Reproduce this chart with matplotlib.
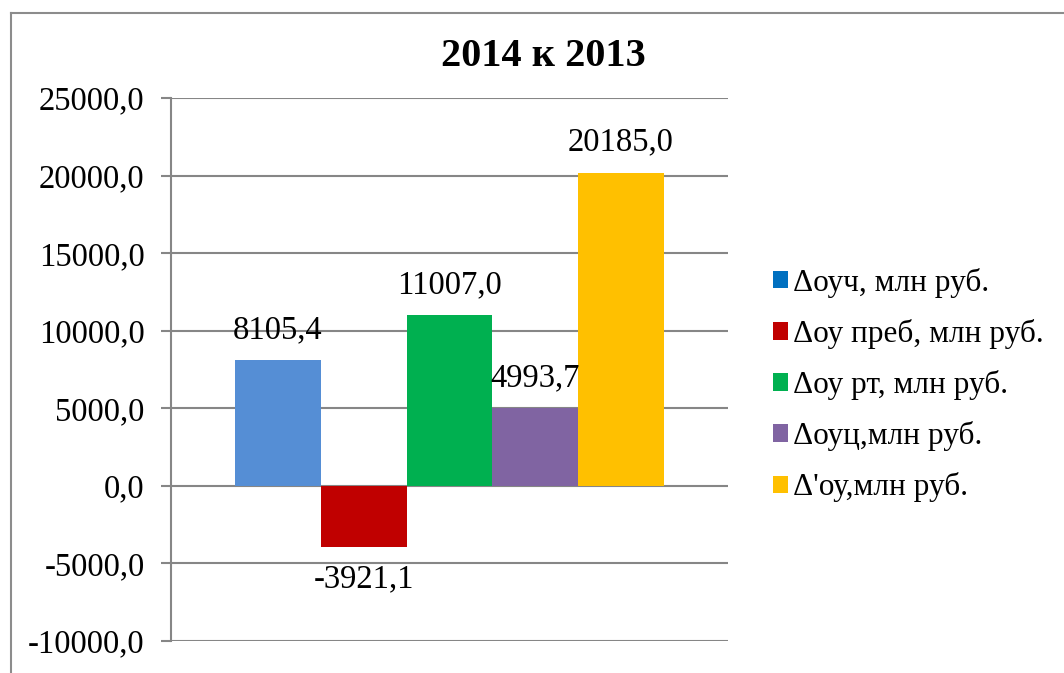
import matplotlib
matplotlib.use("Agg")
import matplotlib.pyplot as plt
from matplotlib.lines import Line2D
from matplotlib.patches import Patch

plt.rcParams["font.family"] = ["Liberation Serif", "DejaVu Serif"]

labels = ["\u0394оуч, млн руб.", "\u0394оу преб, млн руб.", "\u0394оу рт, млн руб.",
          "\u0394оуц,млн руб.", "\u0394'оу,млн руб."]
values = [8105.4, -3921.1, 11007.0, 4993.7, 20185.0]
bar_colors = ["#558ED5", "#C00000", "#00B050", "#8064A2", "#FFC000"]
legend_colors = ["#0070C0", "#C00000", "#00B050", "#8064A2", "#FFC000"]
yticks = [-10000, -5000, 0, 5000, 10000, 15000, 20000, 25000]

W, H = 1064, 673
fig = plt.figure(figsize=(W / 100, H / 100), dpi=100)
ax = fig.add_axes([171 / W, 1 - 641 / H, (728 - 171) / W, (641 - 98) / H])

width = 0.154
n = len(values)
xs = [(i - (n - 1) / 2) * width for i in range(n)]
ax.bar(xs, values, width=width, color=bar_colors, zorder=3)

for x, v in zip(xs, values):
    txt = f"{v:.1f}".replace(".", ",")
    if v >= 0:
        ax.annotate(txt, (x, v), xytext=(0, 11), textcoords="offset points",
                    ha="center", va="bottom", fontsize=23.5, zorder=4)
    else:
        ax.annotate(txt, (x, v), xytext=(0, -12), textcoords="offset points",
                    ha="center", va="top", fontsize=23.5, zorder=4)

ax.set_xlim(-0.5, 0.5)
ax.set_ylim(-10000, 25000)
ax.set_yticks(yticks)
ax.set_yticklabels([f"{t:.1f}".replace(".", ",") for t in yticks], fontsize=23.5)
ax.set_xticks([])
ax.yaxis.grid(True, color="#868686", linewidth=1.5, zorder=0)
ax.tick_params(axis="y", length=7, width=1.5, color="#868686", pad=12)
for s in ["top", "right", "bottom"]:
    ax.spines[s].set_visible(False)
ax.spines["left"].set_color("#868686")
ax.spines["left"].set_linewidth(1.5)
ax.spines["left"].set_zorder(5)

fig.text(543 / W, 1 - 57 / H, "2014 к 2013", ha="center", va="center",
         fontsize=29, fontweight="bold")

handles = [Patch(facecolor=c, edgecolor="none") for c in legend_colors]
fig.legend(handles, labels, loc="center left", bbox_to_anchor=(757 / W, 1 - 385 / H),
           frameon=False, fontsize=22.5, handlelength=0.5, handleheight=0.5,
           handletextpad=0.15, labelspacing=0.68, borderpad=0)

# outer chart frame
fig.add_artist(Line2D([11 / W, 11 / W], [0, 1 - 13 / H], color="#8c8c8c", lw=1.5))
fig.add_artist(Line2D([11 / W, 1], [1 - 13 / H, 1 - 13 / H], color="#8c8c8c", lw=1.5))

fig.savefig("out.png", dpi=100)
